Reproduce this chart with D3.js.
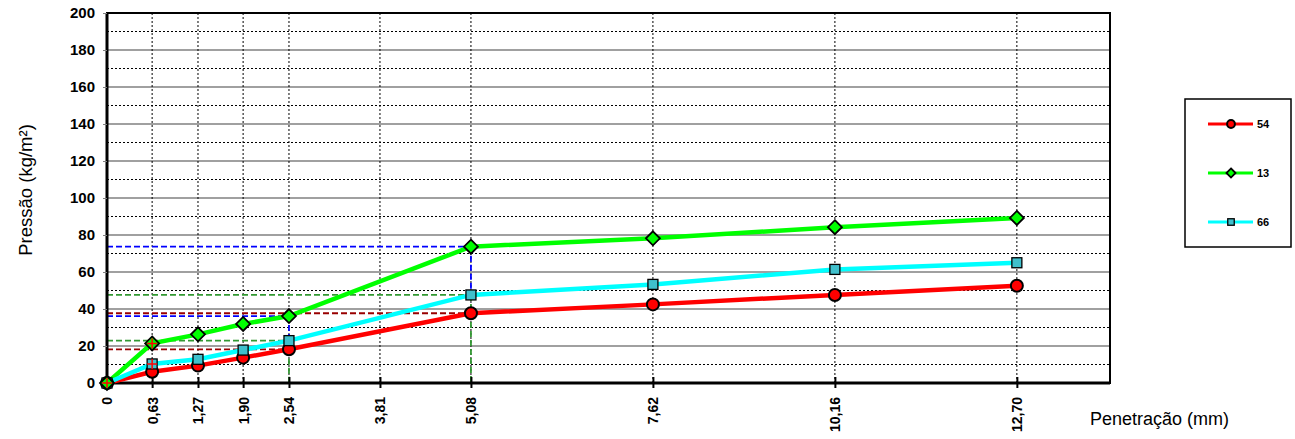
<!DOCTYPE html>
<html><head><meta charset="utf-8">
<script src="https://cdn.jsdelivr.net/npm/d3@7"></script>
<style>body{margin:0;background:#fff}svg{display:block;font-family:Arial,"Liberation Sans",sans-serif}</style>
</head><body><svg id="c" width="1295" height="439"></svg>
<script>
const xTicks = [0, 0.63, 1.27, 1.90, 2.54, 3.81, 5.08, 7.62, 10.16, 12.70];
const xTickLabels = ["0","0,63","1,27","1,90","2,54","3,81","5,08","7,62","10,16","12,70"];
const penetration = [0, 0.63, 1.27, 1.90, 2.54, 5.08, 7.62, 10.16, 12.70];
const series54 = [0, 6.1, 9.4, 13.7, 18.2, 37.7, 42.5, 47.6, 52.6];
const series13 = [0, 21.4, 26.3, 31.9, 36.2, 73.7, 78.2, 84.2, 89.2];
const series66 = [0, 10.3, 12.8, 17.8, 22.9, 47.6, 53.3, 61.4, 65.0];
const seriesNames = ["54", "13", "66"];
const yTicks = [0,20,40,60,80,100,120,140,160,180,200];

const svg = d3.select("#c");
const L=107, R=1110, T=13, B=383;
const x = d3.scaleLinear().domain([0,14]).range([L,R]);
const y = d3.scaleLinear().domain([0,200]).range([B,T]);
const FONT = "Arial,'Liberation Sans',sans-serif";

// horizontal gridlines
const g = svg.append("g");
d3.range(10,200,10).forEach(v=>{
  const major = v%20===0;
  g.append("line").attr("x1",L).attr("x2",R).attr("y1",y(v)).attr("y2",y(v))
   .attr("stroke", major?"#808080":"#000").attr("stroke-width", major?1.5:1)
   .attr("stroke-dasharray", major?null:"2,2");
});
// vertical gridlines
xTicks.slice(1).forEach(v=>{
  g.append("line").attr("x1",x(v)).attr("x2",x(v)).attr("y1",T).attr("y2",B)
   .attr("stroke","#000").attr("stroke-width",1).attr("stroke-dasharray","2,2");
});

// reference dashed lines
const ref = svg.append("g").attr("fill","none").attr("stroke-width",1.8).attr("stroke-dasharray","6,3");
function dl(x1,y1,x2,y2,c){ref.append("line").attr("x1",x(x1)).attr("y1",y(y1)).attr("x2",x(x2)).attr("y2",y(y2)).attr("stroke",c);}
const i254 = 4, i508 = 5;
dl(0,series13[i508],5.08,series13[i508],"#0000ff");
dl(5.08,series13[i508],5.08,series66[i508],"#0000ff");
dl(0,series66[i508],5.08,series66[i508],"#339933");
dl(5.08,series66[i508],5.08,0,"#339933");
dl(0,series54[i508],5.08,series54[i508],"#990000");
dl(0,series13[i254],2.54,series13[i254],"#0000ff");
dl(2.54,series13[i254],2.54,series66[i254],"#0000ff");
dl(0,series66[i254],2.54,series66[i254],"#339933");
dl(2.54,series66[i254],2.54,0,"#339933");
dl(0,series54[i254],2.54,series54[i254],"#990000");

// axes frame
svg.append("rect").attr("x",L).attr("y",T).attr("width",R-L).attr("height",B-T)
  .attr("fill","none").attr("stroke","#000").attr("stroke-width",2);
svg.append("line").attr("x1",L).attr("x2",R).attr("y1",B).attr("y2",B).attr("stroke","#000").attr("stroke-width",3);
svg.append("line").attr("x1",L).attr("x2",L).attr("y1",T).attr("y2",B).attr("stroke","#000").attr("stroke-width",3);

// y axis
const ya = svg.append("g").attr("transform",`translate(${L},0)`)
  .call(d3.axisLeft(y).tickValues(yTicks).tickSize(4).tickPadding(8));
ya.select(".domain").remove();
ya.selectAll("line").attr("stroke","#808080");
ya.selectAll("text").attr("font-size",15).attr("font-weight","bold").attr("fill","#000")
  .attr("font-family",FONT);

// x axis
const xa = svg.append("g").attr("transform",`translate(0,${B})`)
  .call(d3.axisBottom(x).tickValues(xTicks).tickFormat((d,i)=>xTickLabels[i]).tickSize(5));
xa.select(".domain").remove();
xa.selectAll(".tick line").attr("y1",-6).attr("y2",5).attr("stroke","#000").attr("stroke-width",2);
xa.selectAll("text").attr("font-size",14).attr("font-weight","bold").attr("fill","#000")
  .attr("font-family",FONT)
  .attr("transform","rotate(-90)").attr("text-anchor","end").attr("x",-14).attr("y",0).attr("dy","0.35em");

// initial correction lines
dl(0,0,0.63,series13[1],"#ff0000");
dl(0,0,0.63,series66[1],"#0000ff");

// series
const line = d3.line().x((d,i)=>x(penetration[i])).y(d=>y(d));
const colors = ["#ff0000","#00ff00","#00ffff"];
const data = [series54, series13, series66];
data.forEach((s,k)=>{
  svg.append("path").datum(s).attr("d",line).attr("fill","none").attr("stroke",colors[k]).attr("stroke-width",4.5);
});
function marker(gsel,k,cx,cy,scale){
  if(k===0) gsel.append("circle").attr("cx",cx).attr("cy",cy).attr("r",6*scale).attr("fill","#ff0000").attr("stroke","#000").attr("stroke-width",2);
  else if(k===1){const r=7*scale; gsel.append("path").attr("d",`M${cx},${cy-r}L${cx+r},${cy}L${cx},${cy+r}L${cx-r},${cy}Z`).attr("fill","#00ff00").attr("stroke","#000").attr("stroke-width",1.8);}
  else {const h=5*scale; gsel.append("rect").attr("x",cx-h).attr("y",cy-h).attr("width",2*h).attr("height",2*h).attr("fill","#40c0cc").attr("stroke","#000").attr("stroke-width",1.3);}
}
const mk = svg.append("g");
[0,2,1].forEach(k=>{
  data[k].forEach((v,i)=>marker(mk,k,x(penetration[i]),y(v),1));
});
// red plus markers
[[0,0],[0.63,series13[1]],[0.63,series66[1]]].forEach(p=>{
  const cx=x(p[0]), cy=y(p[1]);
  mk.append("path").attr("d",`M${cx-5},${cy}H${cx+5}M${cx},${cy-5}V${cy+5}`).attr("stroke","#ff0000").attr("stroke-width",1.5);
});

// labels
svg.append("text").attr("transform","translate(32,190) rotate(-90)").attr("text-anchor","middle")
  .attr("font-size",18.5).attr("fill","#000").attr("font-family",FONT).text("Pressão (kg/m²)");
svg.append("text").attr("x",1090).attr("y",425).attr("font-size",18).attr("fill","#000").attr("font-family",FONT).text("Penetração (mm)");

// legend
const lg = svg.append("g");
lg.append("rect").attr("x",1185).attr("y",99).attr("width",106).attr("height",148).attr("fill","#fff").attr("stroke","#000").attr("stroke-width",1.5);
[124,173,222].forEach((yy,k)=>{
  lg.append("line").attr("x1",1208).attr("x2",1253).attr("y1",yy).attr("y2",yy).attr("stroke",colors[k]).attr("stroke-width",3);
  marker(lg,k,1231,yy,0.65);
  lg.append("text").attr("x",1257).attr("y",yy).attr("dy","0.35em").attr("font-size",11).attr("font-weight","bold").attr("font-family",FONT).text(seriesNames[k]);
});
</script></body></html>
